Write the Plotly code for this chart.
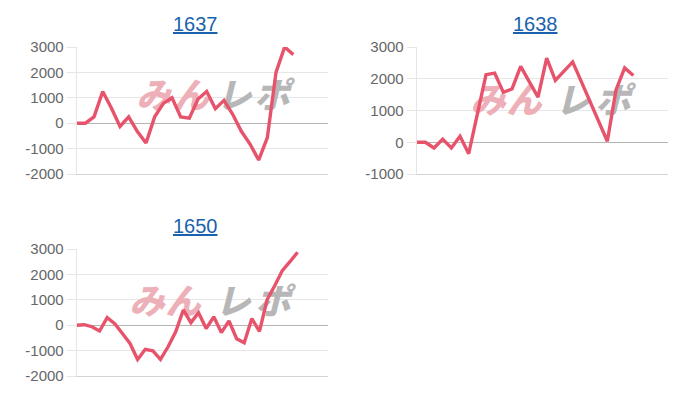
import plotly.graph_objects as go

W, H = 700, 400

# ---- data ----
titles = ["1637", "1638", "1650"]
values_1637 = [0, 0, 250, 1250, 600, -130, 250, -330, -780, 250, 780, 1000, 250, 200,
               950, 1250, 570, 900, 350, -320, -820, -1450, -570, 2000, 3000, 2700]
values_1638 = [0, 0, -180, 100, -180, 190, -360, 880, 2130, 2180, 1570, 1680, 2390, 1900,
               1420, 2650, 1950, 2240, 2530, 1910, 1290, 660, 30, 1650, 2340, 2100]
values_1650 = [0, 20, -60, -230, 300, 60, -330, -720, -1350, -950, -1010, -1350, -850, -260,
               600, 100, 490, -130, 330, -290, 170, -530, -690, 260, -240, 1000, 1550, 2150,
               2500, 2870]
slots = [30, 30, 34]  # number of x-axis category slots per chart
y_ranges = [(-2000, 3000), (-1000, 3000), (-2000, 3000)]
y_ticks = [[-2000, -1000, 0, 1000, 2000, 3000],
           [-1000, 0, 1000, 2000, 3000],
           [-2000, -1000, 0, 1000, 2000, 3000]]
series = [values_1637, values_1638, values_1650]
watermark_chars = ["み", "ん", "レ", "ポ"]
watermark_colors = ["#eeb0b8", "#eeb0b8", "#b7b7b7", "#b7b7b7"]

# ---- layout geometry (pixels) ----
boxes = [  # left, right, top, bottom
    (76.7, 328, 47, 174),
    (416.7, 668, 47, 174),
    (76.7, 328, 249, 376),
]
title_pos = [(195, 24), (535, 24), (195, 226)]
wm_x = [[154, 191, 234, 272], [488, 524, 573, 613], [147, 183, 233, 273]]
wm_y = [99, 104, 305]


def px(x):
    return x / W


def py(y):
    return 1 - y / H


LINE = "#e8536c"
fig = go.Figure()
layout = dict(width=W, height=H, margin=dict(l=0, r=0, t=0, b=0, pad=0, autoexpand=False),
              paper_bgcolor="white", plot_bgcolor="white", showlegend=False)
annotations = []

for i, vals in enumerate(series):
    n = "" if i == 0 else str(i + 1)
    l, r, t, b = boxes[i]
    y0, y1 = y_ranges[i]

    def to_dx(xp):
        return (xp - l) / (r - l) * (slots[i] - 1)

    def to_dy(yp):
        return y1 - (yp - t) / (b - t) * (y1 - y0)

    # watermark drawn first so the line sits above it
    fig.add_trace(go.Scatter(x=[to_dx(v) for v in wm_x[i]],
                             y=[to_dy(wm_y[i])] * len(watermark_chars),
                             mode="text", text=["<i>" + c + "</i>" for c in watermark_chars],
                             textposition="middle center",
                             textfont=dict(family="Noto Sans CJK JP", size=35,
                                           weight=900, color=watermark_colors),
                             xaxis="x" + n, yaxis="y" + n, hoverinfo="skip"))
    fig.add_trace(go.Scatter(x=list(range(len(vals))), y=vals, mode="lines",
                             line=dict(color=LINE, width=3.4), xaxis="x" + n, yaxis="y" + n,
                             hoverinfo="skip"))
    layout["xaxis" + n] = dict(domain=[px(l), px(r)], range=[0, slots[i] - 1],
                               showticklabels=False, showgrid=False, zeroline=False,
                               showline=True, linecolor="#d4d4d4", linewidth=1,
                               anchor="y" + n, fixedrange=True, automargin=False)
    layout["yaxis" + n] = dict(domain=[py(b), py(t)], range=[y0, y1],
                               tickvals=y_ticks[i], ticktext=[str(v) for v in y_ticks[i]],
                               showgrid=True, gridcolor="#e6e6e6", gridwidth=1,
                               zeroline=True, zerolinecolor="#b5b5b5", zerolinewidth=1,
                               showline=True, linecolor="#e6e6e6", linewidth=1,
                               ticks="outside", ticklen=9, tickcolor="#e6e6e6",
                               tickfont=dict(family="Liberation Sans, Arial", size=15,
                                             color="#666666"),
                               anchor="x" + n, fixedrange=True, automargin=False)
    tx, ty = title_pos[i]
    annotations.append(dict(text="<u>" + titles[i] + "</u>", x=px(tx), y=py(ty),
                            xref="paper", yref="paper", showarrow=False,
                            xanchor="center", yanchor="middle",
                            font=dict(family="Liberation Sans, Arial", size=20,
                                      color="#1a62ad")))

layout["annotations"] = annotations
fig.update_layout(**layout)
fig.write_html("out.html", config={"displayModeBar": False},
               post_script="document.body.style.margin='0';")
